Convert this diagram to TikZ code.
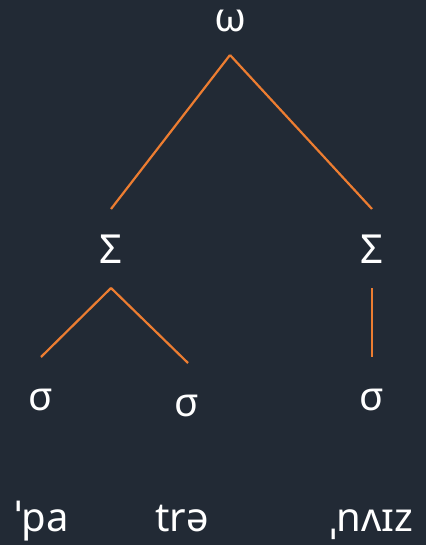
\documentclass[tikz,border=0pt]{standalone}
\usepackage{fontspec}
\setmainfont{Noto Sans}
\definecolor{slate}{HTML}{222A35}
\definecolor{branchorange}{HTML}{ED7D31}

\begin{document}
\begin{tikzpicture}[x=1pt,y=-1pt,
  lab/.style={text=white,anchor=base,inner sep=0pt,font=\fontsize{40}{48}\selectfont},
  branch/.style={branchorange,line width=2.2pt}]
 \fill[slate] (0,0) rectangle (426,545);
 % prosodic word and feet
 \node[lab] (om) at (230,32) {ω};
 \node[lab] (fl) at (111,263) {Σ};
 \node[lab] (fr) at (372,263) {Σ};
 % syllables
 \node[lab] (s1) at (41,410) {σ};
 \node[lab] (s2) at (187,416) {σ};
 \node[lab] (s3) at (372,410) {σ};
 % segments
 \node[lab] (w1) at (42,531) {ˈpa};
 \node[lab] (w2) at (182,531) {trə};
 \node[lab] (w3) at (372,531) {ˌnʌɪz};
 \draw[branch] ([yshift=-23pt]om.base) -- ([yshift=54pt]fl.base);
 \draw[branch] ([yshift=-23pt]om.base) -- ([yshift=54pt]fr.base);
 \draw[branch] ([yshift=-25pt]fl.base) -- ([yshift=53pt]s1.base);
 \draw[branch] ([yshift=-25pt]fl.base) -- ([xshift=1pt,yshift=53pt]s2.base);
 \draw[branch] ([yshift=-25pt]fr.base) -- ([yshift=53pt]s3.base);
\end{tikzpicture}
\end{document}
